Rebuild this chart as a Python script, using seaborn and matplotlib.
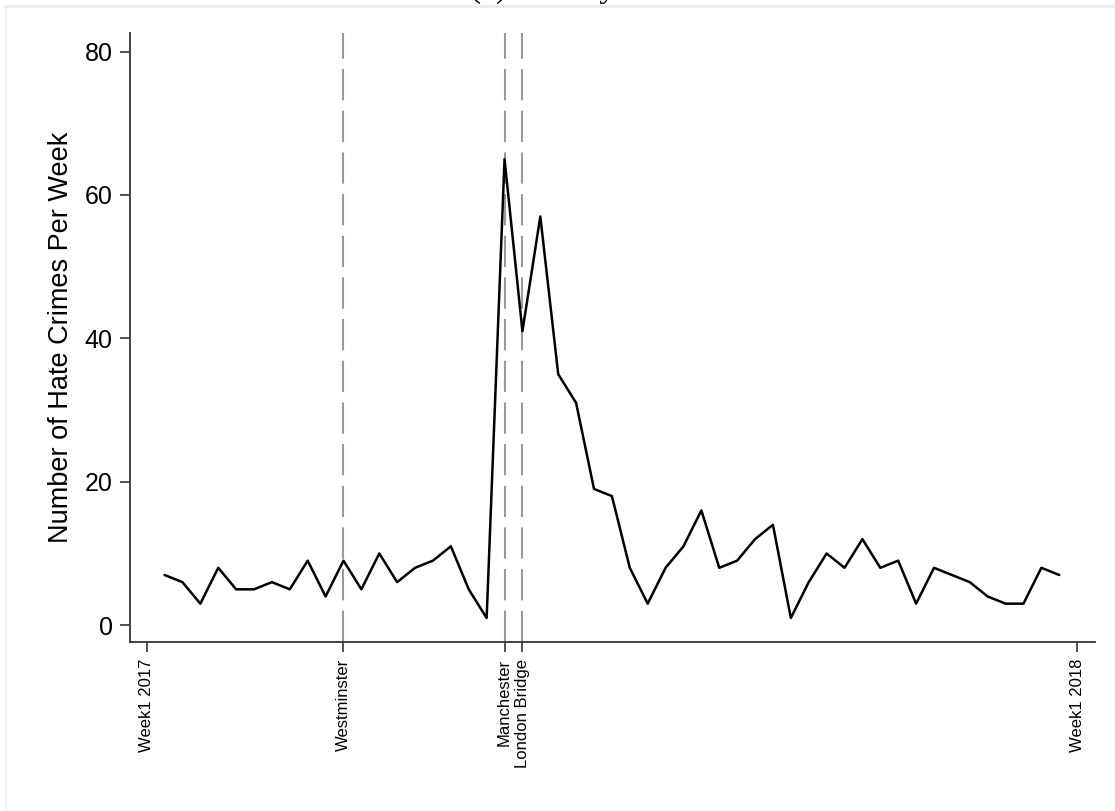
import matplotlib
matplotlib.use("Agg")
import matplotlib.pyplot as plt
from matplotlib.lines import Line2D
import seaborn as sns
import pandas as pd

# weekly counts, 2017 (week 2 .. week 52)
weeks = list(range(2, 53))
crimes = [7, 6, 3, 8, 5, 5, 6, 5, 9, 4, 9, 5, 10, 6, 8, 9, 11, 5, 1,
          65, 41, 57, 35, 31, 19, 18, 8, 3, 8, 11, 16, 8, 9, 12, 14, 1, 6, 10,
          8, 12, 8, 9, 3, 8, 7, 6, 4, 3, 3, 8, 7]

# attacks
event_weeks = [12, 21, 22]
event_names = ["Westminster", "Manchester", "London Bridge"]

xtick_pos = [1] + event_weeks + [53]
xtick_labels = ["Week1 2017"] + event_names + ["Week1 2018"]
ytick_pos = [0, 20, 40, 60, 80]

df = pd.DataFrame({"week": weeks, "crimes": crimes})

sns.set_style("ticks")
plt.rcParams['font.family'] = ['Liberation Sans', 'DejaVu Sans']
plt.rcParams['text.color'] = 'black'
plt.rcParams['axes.labelcolor'] = 'black'
plt.rcParams['xtick.labelcolor'] = 'black'
plt.rcParams['ytick.labelcolor'] = 'black'

fig = plt.figure(figsize=(11.15, 8.11), dpi=100)
ax = fig.add_axes([0.1166, 0.2088, 0.8655, 0.7506])

for w in event_weeks:
    ax.axvline(w, color='#9a9a9a', lw=1.5, linestyle=(0, (15, 5)), zorder=1)

sns.lineplot(data=df, x="week", y="crimes", color='black', lw=1.8, ax=ax, zorder=3)

ax.set_xlim(0.07, 54.0)
ax.set_ylim(-2.3, 82.6)
ax.set_xticks(xtick_pos)
ax.set_xticklabels(xtick_labels, rotation=90, fontsize=12, va='top')
ax.set_yticks(ytick_pos)
ax.set_yticklabels([str(v) for v in ytick_pos], fontsize=18)
ax.set_xlabel("")
ax.set_ylabel("Number of Hate Crimes Per Week", fontsize=19.5, labelpad=8)

sns.despine(ax=ax)
for s in ("left", "bottom"):
    ax.spines[s].set_color('#333333')
    ax.spines[s].set_linewidth(1.3)
ax.tick_params(axis='both', direction='out', length=7.5, width=1.2, color='#333333',
               labelcolor='black')
ax.tick_params(axis='x', pad=5)
ax.tick_params(axis='y', pad=5)
for t, w in zip(ax.get_xticklines()[::2], xtick_pos):
    if w in event_weeks:
        t.set_color('#777777')

# panel title, cut off at the top edge like in the original image
fig.text(0.487, 1 + 3 / 811, "(a) Weekly", fontsize=24, va='baseline', ha='center',
         family=['Liberation Serif', 'DejaVu Serif'])
fig.add_artist(Line2D([5 / 1115, 1], [1 - 6 / 811, 1 - 6 / 811], color='#e8eef0', lw=2))
fig.add_artist(Line2D([6 / 1115, 6 / 1115], [0, 1 - 6 / 811], color='#eef2f4', lw=1.5))

fig.savefig("out.png", dpi=100)
